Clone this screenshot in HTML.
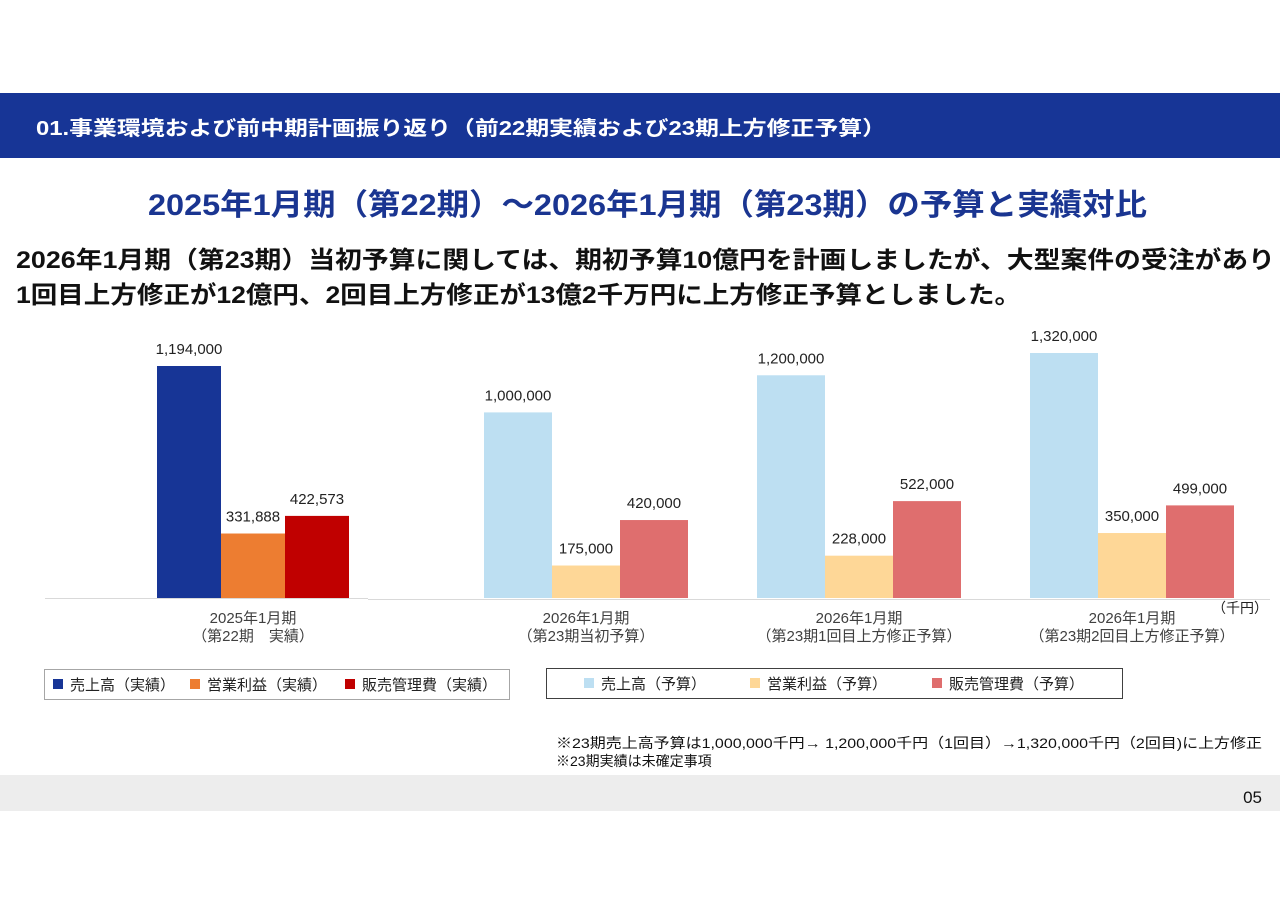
<!DOCTYPE html>
<html><head><meta charset="utf-8">
<style>
body{margin:0;background:#fff;}
svg text{font-family:"Liberation Sans","Noto Sans CJK JP",sans-serif;}
</style></head>
<body>
<svg width="1280" height="905" viewBox="0 0 1280 905" xmlns="http://www.w3.org/2000/svg">
<rect x="0" y="93" width="1280" height="65" fill="#173596"/>
<text x="36" y="135" font-size="20" font-weight="bold" fill="#fff" textLength="850" lengthAdjust="spacingAndGlyphs">01.事業環境および前中期計画振り返り（前22期実績および23期上方修正予算）</text>
<text x="148" y="215" font-size="30" font-weight="bold" fill="#1a3591" textLength="999" lengthAdjust="spacingAndGlyphs">2025年1月期（第22期）～2026年1月期（第23期）の予算と実績対比</text>
<text x="16" y="268" font-size="24" font-weight="bold" fill="#111" textLength="1259" lengthAdjust="spacingAndGlyphs">2026年1月期（第23期）当初予算に関しては、期初予算10億円を計画しましたが、大型案件の受注があり</text>
<text x="16" y="303" font-size="24" font-weight="bold" fill="#111" textLength="1005" lengthAdjust="spacingAndGlyphs">1回目上方修正が12億円、2回目上方修正が13億2千万円に上方修正予算としました。</text>
<line x1="45" y1="598.5" x2="368" y2="598.5" stroke="#d9d9d9"/>
<line x1="368" y1="599.5" x2="1270" y2="599.5" stroke="#d9d9d9"/>
<g id="bars"></g>
<text x="1268" y="613" font-size="14" fill="#222" text-anchor="end">（千円）</text>
<rect x="44.5" y="669.5" width="465" height="30" fill="#fff" stroke="#a6a6a6"/>
<rect x="546.5" y="668.5" width="576" height="30" fill="#fff" stroke="#404040"/>
<g id="legend"></g>
<text x="556" y="748" font-size="14" fill="#111" textLength="706" lengthAdjust="spacingAndGlyphs">※23期売上高予算は1,000,000千円→ 1,200,000千円（1回目）→1,320,000千円（2回目)に上方修正</text>
<text x="556" y="766" font-size="14" fill="#111">※23期実績は未確定事項</text>
<rect x="0" y="775" width="1280" height="36" fill="#ededed"/>
<text x="1262" y="803" font-size="17" fill="#111" text-anchor="end">05</text>
</svg>
<script>
const categories = ["2025年1月期|（第22期　実績）","2026年1月期|（第23期当初予算）","2026年1月期|（第23期1回目上方修正予算）","2026年1月期|（第23期2回目上方修正予算）"];
const salesValues = [1194000, 1000000, 1200000, 1320000];
const profitValues = [331888, 175000, 228000, 350000];
const sgaValues = [422573, 420000, 522000, 499000];
const seriesNames = ["売上高","営業利益","販売管理費"];

const NS="http://www.w3.org/2000/svg";
const baseY=598;
function yScale(v,g){ const k = g===0 ? 232/1194000 : 245/1320000; return baseY - v*k; }
const groupLeft=[157,484,757,1030];
const barW=[64,68,68,68];
const colors=[["#173596","#ed7d31","#c00000"],["#bddff2","#fed797","#df6e6e"]];
function fmt(v){return v.toLocaleString("en-US");}
const bars=document.getElementById("bars");
for(let g=0;g<categories.length;g++){
  const vals=[salesValues[g],profitValues[g],sgaValues[g]];
  const pal=colors[g===0?0:1];
  for(let s=0;s<3;s++){
    const x=groupLeft[g]+s*barW[g], y=yScale(vals[s],g);
    const r=document.createElementNS(NS,"rect");
    r.setAttribute("x",x);r.setAttribute("y",y);r.setAttribute("width",barW[g]);r.setAttribute("height",baseY-y);r.setAttribute("fill",pal[s]);
    
    
    bars.appendChild(r);
    const t=document.createElementNS(NS,"text");
    t.setAttribute("x",x+barW[g]/2);t.setAttribute("y",y-12);t.setAttribute("font-size","15");t.setAttribute("fill","#222");t.setAttribute("text-anchor","middle");
    t.textContent=fmt(vals[s]);
    
    
    bars.appendChild(t);
  }
  const lines=categories[g].split("|");
  const cx=groupLeft[g]+barW[g]*1.5;
  lines.forEach((ln,i)=>{
    const t=document.createElementNS(NS,"text");
    t.setAttribute("x",cx);t.setAttribute("y",623+i*18);t.setAttribute("font-size","15");t.setAttribute("fill","#404040");t.setAttribute("text-anchor","middle");
    t.textContent=ln;
    
    
    bars.appendChild(t);
  });
}
const leg=document.getElementById("legend");
const legX=[[53,190,345],[584,750,932]];
const legY=[685,684];
const suffix=["（実績）","（予算）"];
for(let l=0;l<2;l++){
  for(let s=0;s<3;s++){
    const r=document.createElementNS(NS,"rect");
    r.setAttribute("x",legX[l][s]);r.setAttribute("y",legY[l]-6);r.setAttribute("width",10);r.setAttribute("height",10);r.setAttribute("fill",colors[l][s]);
    
    
    leg.appendChild(r);
    const t=document.createElementNS(NS,"text");
    t.setAttribute("x",legX[l][s]+17);t.setAttribute("y",legY[l]+5);t.setAttribute("font-size","15");t.setAttribute("fill","#222");
    t.textContent=seriesNames[s]+suffix[l];
    
    
    leg.appendChild(t);
  }
}
</script>
</body></html>
